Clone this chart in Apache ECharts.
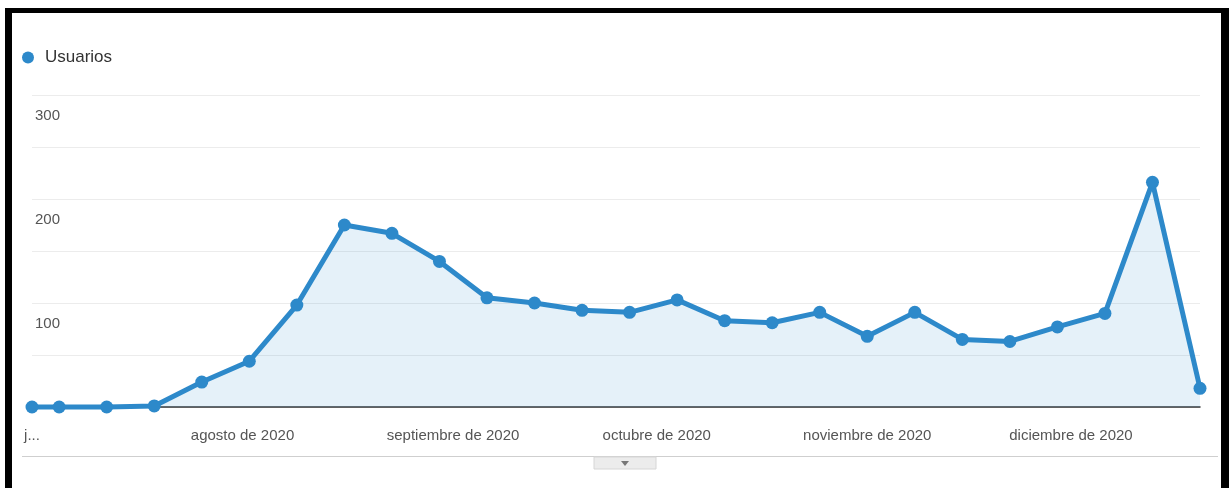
<!DOCTYPE html>
<html>
<head>
<meta charset="utf-8">
<title>Usuarios</title>
<script src="https://cdn.jsdelivr.net/npm/echarts/dist/echarts.min.js"></script>
<style>
  html, body { margin: 0; padding: 0; background: #fff; }
  #chart { width: 1231px; height: 488px; }
</style>
</head>
<body>
<div id="chart"></div>
<script>
// weekly users, first point is a partial week (1 Jul)
const dates = [
  '2020-07-01', '2020-07-05', '2020-07-12', '2020-07-19', '2020-07-26',
  '2020-08-02', '2020-08-09', '2020-08-16', '2020-08-23', '2020-08-30',
  '2020-09-06', '2020-09-13', '2020-09-20', '2020-09-27',
  '2020-10-04', '2020-10-11', '2020-10-18', '2020-10-25',
  '2020-11-01', '2020-11-08', '2020-11-15', '2020-11-22', '2020-11-29',
  '2020-12-06', '2020-12-13', '2020-12-20',
];
const users = [
  0, 0, 0, 1, 24,
  44, 98, 175, 167, 140,
  105, 100, 93, 91,
  103, 83, 81, 91,
  68, 91, 65, 63, 77,
  90, 216, 18,
];
const monthStarts = ['2020-07-01', '2020-08-01', '2020-09-01', '2020-10-01', '2020-11-01', '2020-12-01'];
const monthLabels = ['j...', 'agosto de 2020', 'septiembre de 2020', 'octubre de 2020', 'noviembre de 2020', 'diciembre de 2020'];
const yTickLabels = [100, 200, 300];

const FONT = '"Liberation Sans Narrow", "Liberation Sans", Arial, sans-serif';
const BLUE = '#2d89ca';

// x is days since the first date, so the uneven first step keeps its width
const DAY = 86400000;
const t0 = Date.parse(dates[0] + 'T00:00:00Z');
const toDay = (d) => Math.round((Date.parse(d + 'T00:00:00Z') - t0) / DAY);
const monthDays = monthStarts.map(toDay);

const chart = echarts.init(document.getElementById('chart'));

const option = {
  animation: false,
  backgroundColor: '#fff',
  legend: {
    left: 17,
    top: 44,
    icon: 'circle',
    itemWidth: 12,
    itemHeight: 12,
    textStyle: {
      fontFamily: FONT,
      fontSize: 17,
      color: '#333',
      padding: [0, 0, 0, 6],
    },
    data: ['Usuarios'],
  },
  grid: {
    left: 32,
    right: 31,
    top: 95,
    bottom: 81,
    containLabel: false,
  },
  xAxis: {
    type: 'value',
    min: 0,
    max: toDay(dates[dates.length - 1]),
    axisLine: { onZero: false, lineStyle: { color: '#333', width: 1.5 } },
    axisTick: { show: false },
    splitLine: { show: false },
    axisLabel: {
      customValues: monthDays,
      margin: 21,
      fontFamily: FONT,
      fontSize: 15,
      color: '#555',
      formatter: (v) => {
        const i = monthDays.indexOf(v);
        return i >= 0 ? monthLabels[i] : '';
      },
    },
  },
  yAxis: {
    type: 'value',
    min: 0,
    max: 300,
    interval: 50,
    axisLine: { show: false },
    axisTick: { show: false },
    splitLine: { lineStyle: { color: '#ececec', width: 1 } },
    axisLabel: {
      inside: true,
      customValues: yTickLabels,
      margin: 3,
      verticalAlign: 'top',
      padding: [13, 0, 0, 0],
      fontFamily: FONT,
      fontSize: 15,
      color: '#555',
    },
  },
  series: [
    {
      name: 'Usuarios',
      type: 'line',
      clip: false,
      data: dates.map((d, i) => [toDay(d), users[i]]),
      symbol: 'circle',
      symbolSize: 13,
      itemStyle: { color: BLUE },
      lineStyle: { color: BLUE, width: 5 },
      areaStyle: { color: 'rgba(45, 137, 202, 0.12)', opacity: 1 },
    },
  ],
  graphic: [
    // black frame
    { type: 'rect', shape: { x: 5, y: 8, width: 1224, height: 5 }, style: { fill: '#000' } },
    { type: 'rect', shape: { x: 5, y: 8, width: 7, height: 480 }, style: { fill: '#000' } },
    { type: 'rect', shape: { x: 1221, y: 8, width: 8, height: 480 }, style: { fill: '#000' } },
    // bottom separator + collapse tab
    { type: 'rect', shape: { x: 22, y: 456, width: 1196, height: 1 }, style: { fill: '#cfcfcf' } },
    {
      type: 'rect',
      shape: { x: 594, y: 457, width: 62, height: 12 },
      style: { fill: '#ececec', stroke: '#d6d6d6', lineWidth: 1 },
    },
    {
      type: 'polygon',
      shape: { points: [[621, 461], [629, 461], [625, 466]] },
      style: { fill: '#777' },
    },
  ],
};

chart.setOption(option);
</script>
</body>
</html>
